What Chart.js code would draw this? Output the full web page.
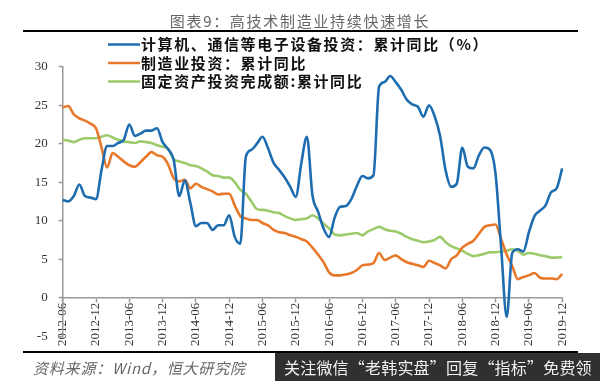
<!DOCTYPE html>
<html>
<head>
<meta charset="utf-8">
<script src="https://cdn.jsdelivr.net/npm/chart.js@4"></script>
<style>
  html, body { margin: 0; padding: 0; background: #fff; }
  #wrap { position: relative; width: 600px; height: 381px; overflow: hidden; background: #fff; }
  #c { position: absolute; left: 0; top: 0; }
  .title { position: absolute; left: 0; width: 600px; top: 10px; text-align: center;
           font: 15px "Noto Sans CJK SC", sans-serif; color: #666; letter-spacing: 1.7px; }
  .rule { position: absolute; background: #000; }
  .foot { position: absolute; left: 33px; top: 357px; font: italic 15px "Noto Sans CJK SC", serif;
          color: #666; letter-spacing: 0.8px; }
  .wm { position: absolute; left: 275px; top: 353px; width: 325px; height: 28px; background: rgba(30,30,30,0.92);
        color: #f2f2f2; font: 16px "Noto Sans CJK SC", sans-serif; line-height: 28px; padding-left: 9px; box-sizing: border-box;
        white-space: nowrap; letter-spacing: 0.2px; }
</style>
</head>
<body>
<div id="wrap">
  <canvas id="c" width="600" height="381"></canvas>
  <div class="title">图表9：高技术制造业持续快速增长</div>
  <div class="rule" style="left:23px; top:30px; width:555px; height:2px;"></div>
  <div class="rule" style="left:23px; top:351px; width:555px; height:2px;"></div>
  <div class="foot">资料来源：Wind，恒大研究院</div>
  <div class="wm">关注微信“老韩实盘”回复“指标”免费领</div>
</div>
<script>
// Months 2012-06 .. 2019-12
const months = [];
for (let y = 2012; y <= 2019; y++) {
  for (let m = 1; m <= 12; m++) {
    if (y === 2012 && m < 6) continue;
    months.push(y + '-' + String(m).padStart(2, '0'));
  }
}

const seriesNames = [
  '计算机、通信等电子设备投资：累计同比（%）',
  '制造业投资：累计同比',
  '固定资产投资完成额:累计同比'
];

const electronics = [
  12.7, 12.5, 13.2, 14.7, 13.2, 13.0, 12.8,
  16.6, 19.7, 19.7, 20.1, 20.5, 22.5, 21.0, 21.3, 21.7, 21.7, 22.0, 20.2,
  19.3, 17.9, 13.2, 15.2, 12.3, 9.3, 9.7, 9.7, 8.8, 9.4, 9.4, 10.7,
  7.9, 7.0, 18.3, 19.2, 20.0, 20.9, 19.4, 17.5, 16.6, 15.6, 14.4, 13.1,
  17.5, 20.9, 13.3, 11.2, 9.0, 7.9, 10.4, 11.8, 11.9, 12.8, 14.5, 15.8,
  15.5, 15.9, 27.4, 28.0, 28.8, 28.0, 27.0, 25.7, 25.1, 24.8, 23.5, 25.0,
  23.6, 21.0, 16.5, 14.4, 14.8, 19.5, 17.0, 16.8, 18.5, 19.5, 19.2, 16.0,
  6.5, -2.5, 5.8, 6.3, 6.0, 8.5, 10.6, 11.3, 12.0, 13.7, 14.2, 16.8
];

const manufacturing = [
  24.7, 24.9, 23.8, 23.3, 23.0, 22.6, 22.0,
  19.5, 16.9, 18.8, 18.3, 17.7, 17.2, 17.0, 17.6, 18.3, 18.9, 18.5, 18.3,
  17.3, 15.5, 15.1, 15.3, 14.2, 14.8, 14.4, 14.1, 13.8, 13.4, 13.5, 13.5,
  12.0, 10.6, 10.3, 10.1, 10.1, 9.7, 9.4, 8.8, 8.5, 8.4, 8.1, 7.9,
  7.6, 7.3, 6.5, 5.6, 4.6, 3.3, 2.9, 2.9, 3.0, 3.2, 3.6, 4.2,
  4.3, 4.5, 5.8, 4.9, 5.2, 5.5, 5.0, 4.6, 4.4, 4.2, 4.0, 4.8,
  4.5, 4.2, 3.8, 5.0, 5.5, 6.5, 7.0, 7.4, 8.3, 9.2, 9.4, 9.5,
  7.6, 5.6, 4.1, 2.4, 2.7, 2.9, 3.2, 2.6, 2.5, 2.5, 2.4, 3.1
];

const fixedAsset = [
  20.5, 20.4, 20.2, 20.5, 20.7, 20.7, 20.7,
  20.9, 21.1, 20.8, 20.5, 20.3, 20.2, 20.1, 20.3, 20.2, 20.1, 19.8, 19.6,
  19.3, 18.0, 17.7, 17.5, 17.2, 17.1, 16.8, 16.4, 15.9, 15.8, 15.6, 15.6,
  15.0, 14.0, 13.5, 12.5, 11.5, 11.4, 11.3, 11.1, 11.0, 10.6, 10.3, 10.1,
  10.2, 10.3, 10.7, 10.3, 9.6, 9.0, 8.2, 8.1, 8.2, 8.3, 8.4, 8.1,
  8.6, 8.9, 9.2, 8.9, 8.7, 8.6, 8.3, 7.9, 7.6, 7.4, 7.2, 7.3,
  7.5, 7.9, 7.2, 6.7, 6.4, 6.1, 5.7, 5.4, 5.5, 5.7, 5.9, 5.9,
  6.0, 6.1, 6.3, 6.1, 5.6, 5.8, 5.7, 5.5, 5.4, 5.2, 5.2, 5.3
];

const yTicks = [-5, 0, 5, 10, 15, 20, 25, 30];
const colors = ['#1f6db1', '#e8782a', '#9ccb6c'];

const legendPlugin = {
  id: 'insideLegend',
  afterDraw(chart) {
    const ctx = chart.ctx;
    ctx.save();
    const x0 = 108, x1 = 140, ys = [44.5, 63, 81.5];
    chart.data.datasets.forEach((ds, i) => {
      ctx.strokeStyle = ds.borderColor;
      ctx.lineWidth = 2.5;
      ctx.beginPath();
      ctx.moveTo(x0, ys[i]);
      ctx.lineTo(x1, ys[i]);
      ctx.stroke();
      ctx.fillStyle = '#111';
      ctx.font = 'bold 15px "Noto Sans CJK SC", sans-serif';
      ctx.letterSpacing = '1.6px';
      ctx.textBaseline = 'middle';
      ctx.textAlign = 'left';
      ctx.fillText(ds.label, x1 + 1, ys[i]);
    });
    ctx.restore();
  }
};

new Chart(document.getElementById('c'), {
  type: 'line',
  data: {
    labels: months,
    datasets: [
      { label: seriesNames[0], data: electronics, borderColor: colors[0] },
      { label: seriesNames[1], data: manufacturing, borderColor: colors[1] },
      { label: seriesNames[2], data: fixedAsset, borderColor: colors[2] }
    ].map(d => Object.assign(d, {
      borderWidth: 2.6, pointRadius: 0, fill: false, cubicInterpolationMode: 'monotone'
    }))
  },
  options: {
    responsive: false,
    animation: false,
    devicePixelRatio: 1,
    layout: { padding: { top: 66.7, bottom: 44.8, left: 0, right: 37.8 } },
    plugins: { legend: { display: false }, title: { display: false }, tooltip: { enabled: false } },
    scales: {
      x: {
        type: 'category',
        position: { y: 0 },
        offset: false,
        border: { display: true, color: '#999', width: 1.5 },
        grid: {
          drawOnChartArea: false,
          drawTicks: true,
          tickLength: 4,
          tickWidth: 1.5,
          tickColor: (c) => (c.index % 6 === 0 ? '#999' : 'rgba(0,0,0,0)')
        },
        ticks: {
          autoSkip: false,
          minRotation: 90,
          maxRotation: 90,
          padding: 1,
          color: '#333',
          font: { family: '"Liberation Serif", serif', size: 13 },
          callback: (v, i) => (i % 6 === 0 ? months[i] : '')
        }
      },
      y: {
        min: -5,
        max: 30,
        afterFit: (s) => { s.width = 62.7; },
        afterBuildTicks: (s) => { s.ticks = yTicks.map(v => ({ value: v })); },
        border: { display: true, color: '#999', width: 1.5 },
        grid: { drawOnChartArea: false, drawTicks: true, tickLength: 4, tickWidth: 1.5, tickColor: '#999' },
        ticks: {
          padding: 11,
          color: '#333',
          font: { family: '"Liberation Serif", serif', size: 13 }
        }
      }
    }
  },
  plugins: [legendPlugin]
});
</script>
</body>
</html>
